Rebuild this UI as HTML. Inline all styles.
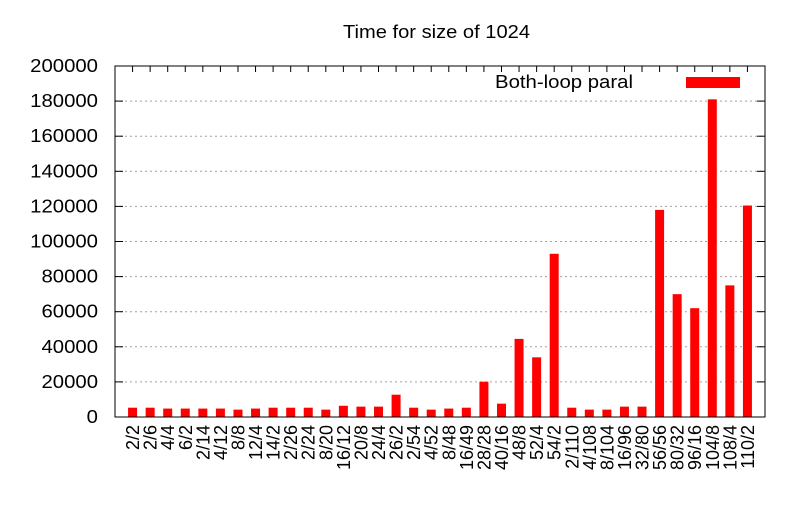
<!DOCTYPE html>
<html><head><meta charset="utf-8"><style>
body{margin:0;background:#fff;width:800px;height:500px;overflow:hidden}
svg{font-family:"Liberation Sans",Arial,sans-serif}
</style></head><body>
<svg id="chart" width="800" height="500">
<text x="343" y="38" font-size="18" textLength="187" lengthAdjust="spacingAndGlyphs">Time for size of 1024</text>
<g id="grid"></g><g id="axes"></g><g id="bars"></g><g id="frame"></g>
<g>
<text x="495" y="88" font-size="18" textLength="138" lengthAdjust="spacingAndGlyphs">Both-loop paral</text>
<rect x="686" y="77" width="54" height="11" fill="#ff0000"/>
</g>
</svg>
<script>
const categories=["2/2","2/6","4/4","6/2","2/14","4/12","8/8","12/4","14/2","2/26","2/24","8/20","16/12","20/8","24/4","26/2","2/54","4/52","8/48","16/49","28/28","40/16","48/8","52/4","54/2","2/110","4/108","8/104","16/96","32/80","56/56","80/32","96/16","104/8","108/4","110/2"];
const values=[5300,5300,4800,4800,4800,4800,4200,4800,5300,5300,5300,4200,6400,5900,5900,12700,5300,4200,4800,5300,20100,7600,44500,34000,93000,5300,4200,4200,5900,5900,118000,70000,62000,181000,75000,120500];
const yTicks=[0,20000,40000,60000,80000,100000,120000,140000,160000,180000,200000];
const L=115,R=765,T=66,B=417;
const ns="http://www.w3.org/2000/svg";
const n=categories.length;
const x=i=>L+(i+1)*(R-L)/(n+1);
const y=v=>B-(v/200000)*(B-T);
function mk(tag,attrs,parent){const e=document.createElementNS(ns,tag);for(const k in attrs)e.setAttribute(k,attrs[k]);parent.appendChild(e);return e;}
const grid=document.getElementById('grid'),bars=document.getElementById('bars'),axes=document.getElementById('axes'),frame=document.getElementById('frame');
yTicks.forEach(t=>{
  const yy=y(t);
  if(t>0&&t<200000){const g=mk('line',{x1:L,x2:R,y1:yy,y2:yy,stroke:'#a0a0a0','stroke-dasharray':'2,3'},grid);
  
  }
  mk('line',{x1:L,x2:L+8,y1:yy,y2:yy,stroke:'#000'},axes);
  mk('line',{x1:R,x2:R-8,y1:yy,y2:yy,stroke:'#000'},axes);
  const s=String(t);
  const w=s.length*11.3;
  const tx=mk('text',{x:98-w,y:yy+6,'font-size':18,textLength:w,lengthAdjust:'spacingAndGlyphs'},axes);
  tx.textContent=s;
  
  
});
values.forEach((v,i)=>{
  const cx=x(i);
  const r=mk('rect',{x:cx-4.5,y:y(v),width:9,height:B-y(v),fill:'#ff0000'},bars);
  
  
  mk('line',{x1:cx,x2:cx,y1:B,y2:B-6,stroke:'#000'},axes);
  mk('line',{x1:cx,x2:cx,y1:T,y2:T+6,stroke:'#000'},axes);
  const tx=mk('text',{x:0,y:0,'text-anchor':'end','font-size':18,transform:`translate(${cx+6.5},425) rotate(-90)`},axes);
  tx.textContent=categories[i];
  
  
});
const f=mk('rect',{x:L,y:T,width:R-L,height:B-T,fill:'none',stroke:'#000'},frame);


</script>
</body></html>
